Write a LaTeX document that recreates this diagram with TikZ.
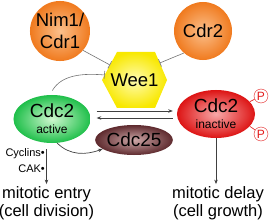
\documentclass[tikz,border=0pt]{standalone}
\usepackage{fontspec}
\setmainfont{Liberation Sans}
\usetikzlibrary{shapes.geometric, arrows.meta, positioning, calc}

\definecolor{orangeout}{HTML}{F07A1E}
\definecolor{orangein}{HTML}{FBC08C}
\definecolor{greenout}{HTML}{1FBF4A}
\definecolor{greenin}{HTML}{CFF7CF}
\definecolor{redout}{HTML}{DD1414}
\definecolor{redin}{HTML}{F8A8A8}
\definecolor{brownout}{HTML}{5E2A2E}
\definecolor{brownin}{HTML}{CDA8A8}
\definecolor{yellowout}{HTML}{F8E800}
\definecolor{yellowin}{HTML}{FFFCB0}
\definecolor{phosred}{HTML}{E31B1B}

\begin{document}
\begin{tikzpicture}[
    x=1bp, y=1bp,
    ballnode/.style = {circle, minimum size=58bp, inner sep=0pt, shading=radial, inner color=orangein, outer color=orangeout, align=center, font=\fontsize{18.5bp}{22bp}\selectfont},
    cdcnode/.style = {ellipse, minimum width=77bp, minimum height=48bp, inner sep=0pt, align=center, font=\fontsize{19bp}{19bp}\selectfont},
    weetext/.style = {inner sep=0pt, font=\fontsize{18.5bp}{20bp}\selectfont},
    phos/.style = {circle, draw=phosred, fill=white, text=phosred, minimum size=14bp, inner sep=0pt, font=\fontsize{12bp}{12bp}\selectfont},
    outtext/.style = {align=center, inner sep=2bp, font=\fontsize{16.5bp}{18bp}\selectfont},
    smalltxt/.style = {inner sep=0pt, anchor=east, font=\fontsize{11bp}{12bp}\selectfont},
    inhibit/.style = {draw=black!55, line width=0.6bp, -{Bar[width=8bp]}},
    arrow/.style = {draw=black!75, line width=0.7bp, -{Stealth[length=4.5bp, width=3.5bp]}}
]
\useasboundingbox (0,0) rectangle (270,223);

% regulators of Wee1
\node (nim1) [ballnode] at (60, 192) {Nim1/\\Cdr1};
\node (cdr2) [ballnode] at (203, 192) {Cdr2};

% Wee1 hexagon
\shade [inner color=yellowin, outer color=yellowout] (102, 143) -- (117, 171) -- (155, 171) -- (167, 143) -- (155, 115) -- (117, 115) -- cycle;
\node (wee1) [weetext] at (134.5, 143) {Wee1};
\coordinate (wee1_nim) at (110, 158);
\coordinate (wee1_cdr) at (159.7, 160);
\coordinate (wee1_cdc) at (104.7, 148);

% Cdc2 states
\node (cdc2_act) [cdcnode, shading=radial, inner color=greenin, outer color=greenout] at (52, 104) {Cdc2\\[-3bp]{\fontsize{12bp}{12bp}\selectfont active}};
\node (cdc2_inact) [cdcnode, minimum width=78bp, shading=radial, inner color=redin, outer color=redout] at (216, 109) {Cdc2\\[-3bp]{\fontsize{12bp}{12bp}\selectfont inactive}};
\node (cdc25) [ellipse, minimum width=70bp, minimum height=30bp, inner sep=0pt, shading=radial, inner color=brownin, outer color=brownout, font=\fontsize{19bp}{19bp}\selectfont] at (134, 83) {Cdc25};

\node (p_top) [phos] at (261, 127) {P};
\node (p_bot) [phos] at (261, 89) {P};

% outcomes
\node (entry) [outtext] at (46.5, 20) {mitotic entry\\(cell division)};
\node (delay) [outtext] at (218, 20) {mitotic delay\\(cell growth)};
\node (cyclins) [smalltxt] at (45, 69) {Cyclins•};
\node (cak) [smalltxt] at (45, 54) {CAK•};

\draw [inhibit] (nim1.-40) -- (wee1_nim);
\draw [inhibit] (cdr2.229) -- (wee1_cdr);
\draw [inhibit, shorten <=5bp] (cdc2_act.95) to[out=60, in=175] (wee1_cdc);

\draw [arrow, shorten <=6bp, shorten >=4bp] ([yshift=8bp]cdc2_act.east) -- ([yshift=8bp]cdc2_act.east -| cdc2_inact.west);
\draw [arrow, shorten <=4bp, shorten >=6bp] ([yshift=1bp]cdc2_act.east -| cdc2_inact.west) -- ([yshift=1bp]cdc2_act.east);
\draw [arrow] (cdc2_act.-78) to[out=-45, in=200] (cdc25.196);

\draw [phosred, line width=0.6bp] (cdc2_inact.20) -- (p_top);
\draw [phosred, line width=0.6bp] (cdc2_inact.-20) -- (p_bot);

\draw [arrow, shorten <=6bp] (entry.north |- cdc2_act.south) -- (entry.north);
\draw [arrow] (cdc2_inact.south) -- (cdc2_inact.south |- delay.north);

\end{tikzpicture}
\end{document}
